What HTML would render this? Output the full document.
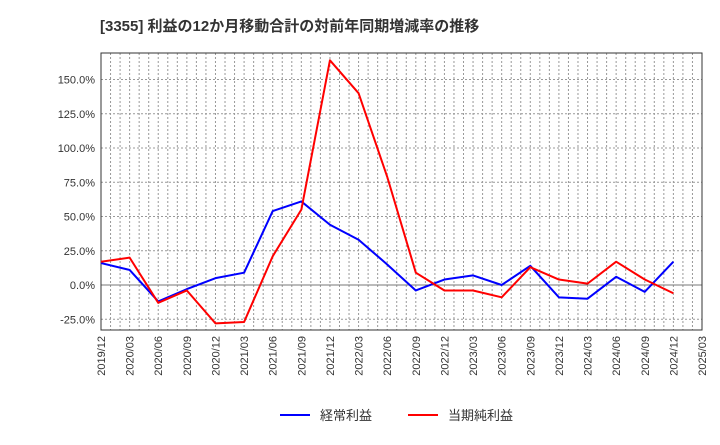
<!DOCTYPE html>
<html><head><meta charset="utf-8"><style>
body{margin:0;background:#fff;font-family:"Liberation Sans","Noto Sans CJK JP",sans-serif;}
</style></head><body>
<svg id="c" width="720" height="440" xmlns="http://www.w3.org/2000/svg">
<text x="100" y="31" font-size="15" font-weight="bold" fill="#333" font-family="Liberation Sans, Noto Sans CJK JP, sans-serif">[3355]  利益の12か月移動合計の対前年同期増減率の推移</text>
<g id="grid"></g><g id="axes"></g><g id="series"></g>
<g>
<line x1="280" y1="415" x2="310" y2="415" stroke="#0000ff" stroke-width="2"/>
<text x="320" y="420" font-size="13" fill="#333" font-family="Liberation Sans, Noto Sans CJK JP, sans-serif">経常利益</text>
<line x1="408" y1="415" x2="438" y2="415" stroke="#ff0000" stroke-width="2"/>
<text x="448" y="420" font-size="13" fill="#333" font-family="Liberation Sans, Noto Sans CJK JP, sans-serif">当期純利益</text>
</g>
</svg>
<script>
const categories=["2019/12","2020/03","2020/06","2020/09","2020/12","2021/03","2021/06","2021/09","2021/12","2022/03","2022/06","2022/09","2022/12","2023/03","2023/06","2023/09","2023/12","2024/03","2024/06","2024/09","2024/12","2025/03"];
const ordinaryProfit=[16,11,-12,-3,5,9,54,61,44,33,15,-4,4,7,0,14,-9,-10,6,-5,17];
const netIncome=[17,20,-13,-4,-28,-27,21,55,164,140,79,9,-4,-4,-9,13,4,1,17,4,-6];
const yTicks=[-25,0,25,50,75,100,125,150];
const L=101,R=702,T=53,B=330;
const NS="http://www.w3.org/2000/svg";
function x(i){return L+(R-L)*i/(categories.length-1);}
function y(v){return 285-v*34.25/25;}
function mk(tag,attrs,parent){const e=document.createElementNS(NS,tag);for(const k in attrs)e.setAttribute(k,attrs[k]);parent.appendChild(e);return e;}
const grid=document.getElementById('grid'),axes=document.getElementById('axes'),series=document.getElementById('series');
for(let m=1;m<(categories.length-1)*3;m++){
 const xx=L+(R-L)*m/((categories.length-1)*3);
 const l=mk('line',{x1:xx,x2:xx,y1:T,y2:B,stroke:'#999','stroke-dasharray':'2,2','stroke-width':1},grid);
 
 
}
yTicks.forEach(v=>{
 const l=mk('line',{x1:L,x2:R,y1:y(v),y2:y(v),stroke:v===0?'#777':'#999','stroke-dasharray':v===0?'none':'2,2','stroke-width':1},grid);
 
 
 const t=mk('text',{x:L-6,y:y(v)+4,'text-anchor':'end','font-size':11,fill:'#333'},axes);
 t.textContent=v.toFixed(1)+'%';
 
 
});
const fr=mk('rect',{x:L,y:T,width:R-L,height:B-T,fill:'none',stroke:'#333','stroke-width':1},axes);


categories.forEach((c,i)=>{
 const t=mk('text',{transform:`translate(${x(i)+4},${B+6}) rotate(-90)`,'text-anchor':'end','font-size':11,fill:'#333'},axes);
 t.textContent=c;
 
 
});
function line(data,color,name){
 const p=mk('polyline',{points:data.map((v,i)=>x(i)+','+y(v)).join(' '),fill:'none',stroke:color,'stroke-width':2,'stroke-linejoin':'round'},series);
 
 
}
line(ordinaryProfit,'#0000ff','ordinary-profit-line');
line(netIncome,'#ff0000','net-income-line');
</script>
</body></html>
